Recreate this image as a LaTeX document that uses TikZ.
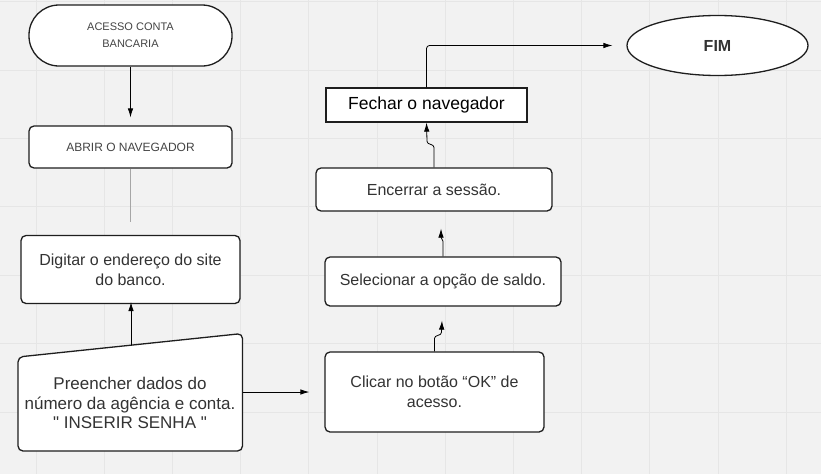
\documentclass[tikz,border=0pt]{standalone}
\usepackage{fontspec}
\setmainfont{Liberation Sans}
\newfontfamily\qfont{Liberation Sans}
\usetikzlibrary{arrows.meta,calc,shapes.geometric}
\definecolor{bg}{HTML}{F2F2F2}
\definecolor{gridc}{HTML}{E6E6E6}
\definecolor{edge}{HTML}{1E1E1E}
\definecolor{txt}{HTML}{333333}
\definecolor{txtl}{HTML}{444444}
\tikzset{
  box/.style={draw=edge, line width=1.3pt, fill=white, inner sep=0pt, align=center, text=txt, rounded corners=5pt},
  arr/.style={draw=black, line width=0.8pt, -{Latex[length=9pt,width=5.5pt]}},
  thinline/.style={draw=gray!70, line width=0.6pt},
}
\begin{document}
\begin{tikzpicture}[x=1pt,y=-1pt]
\useasboundingbox (0,0) rectangle (821,474);
\fill[bg] (0,0) rectangle (821,474);
\foreach \i in {0,...,11} {\draw[gridc, line width=0.8pt] ({36+68.2*\i},0) -- ({36+68.2*\i},474);}
\foreach \j in {0,...,6} {\draw[gridc, line width=0.8pt] (0,{1.6+68.4*\j}) -- (821,{1.6+68.4*\j});}

% nodes
\node[box, rounded corners=30pt, minimum width=203pt, minimum height=61pt, text=txtl,
  font=\fontsize{11}{17}\selectfont] (start) at (130.5,35.5) {ACESSO CONTA\\BANCARIA};
\node[box, minimum width=203pt, minimum height=42pt, text=txtl,
  font=\fontsize{12}{14}\selectfont] (abrir) at (130.5,147) {ABRIR O NAVEGADOR};
\node[box, minimum width=219pt, minimum height=68pt,
  font=\fontsize{16}{20}\selectfont] (digitar) at (130.5,269.5) {Digitar o endereço do site\\do banco.};

\draw[draw=edge, line width=1.3pt, fill=white, rounded corners=5pt]
  (18,357) -- (242.5,333.5) -- (242.5,451) -- (18,451) -- cycle;
\node[inner sep=0pt, align=center, text=txt, font=\fontsize{17}{19.5}\selectfont]
  (preencher) at (130,403) {Preencher dados do\\número da agência e conta.\\{\qfont"} INSERIR SENHA {\qfont"}};
\coordinate (pretop) at (131,345);
\coordinate (preright) at (242.5,392);

\node[box, minimum width=219pt, minimum height=80pt,
  font=\fontsize{16}{20}\selectfont] (clicar) at (434.5,392) {Clicar no botão “OK” de\\acesso.};
\node[box, minimum width=236pt, minimum height=49pt,
  font=\fontsize{16}{20}\selectfont] (selecionar) at (443,281.5) {Selecionar a opção de saldo.};
\node[box, minimum width=236pt, minimum height=43pt,
  font=\fontsize{16}{20}\selectfont] (encerrar) at (434,189.5) {Encerrar a sessão.};
\node[box, rounded corners=0pt, minimum width=201pt, minimum height=34pt, text=black,
  font=\fontsize{17.5}{20}\selectfont] (fechar) at (426.5,105) {Fechar o navegador};
\node[draw=edge, line width=1.3pt, fill=white, ellipse, inner sep=0pt, minimum width=181pt,
  minimum height=60pt, text=txt, font=\fontsize{16}{18}\selectfont\bfseries] (fim) at (717.5,45.5) {FIM};

% connectors
\draw[arr, shorten >=8pt] (start.south) -- (abrir.north);
\draw[thinline, shorten >=13pt] (abrir.south) -- (digitar.north);
\draw[arr, shorten >=-2pt] (pretop) -- (pretop |- digitar.south);
\draw[arr, shorten >=15pt] (preright) -- (preright -| clicar.west);
\draw[arr] (clicar.north) -- ++(0,-13) to[out=90,in=-90] ++(7,-6) -- ($(selecionar.south)+(-1,14)$);
\draw[arr] (selecionar.north) -- ++(0,-15) to[out=90,in=-90] ++(-2,-4) -- ($(encerrar.south)+(7,17)$);
\draw[arr] (encerrar.north) -- ++(0,-20) to[out=90,in=-90] ++(-7,-6) -- (fechar.south);
\draw[arr, rounded corners=3pt, shorten >=14pt] (fechar.north) |- (fim.west);
\end{tikzpicture}
\end{document}
